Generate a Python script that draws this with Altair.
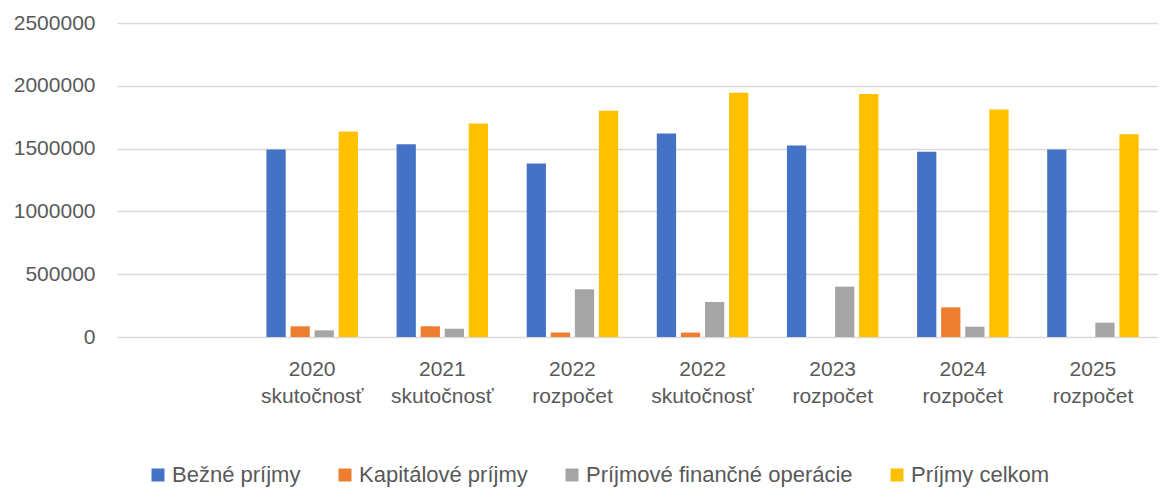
import altair as alt
import pandas as pd

categories = ["_", "2020 skutočnosť", "2021 skutočnosť", "2022 rozpočet", "2022 skutočnosť",
              "2023 rozpočet", "2024 rozpočet", "2025 rozpočet"]
data_categories = categories[1:]
series = ["Bežné príjmy", "Kapitálové príjmy", "Príjmové finančné operácie", "Príjmy celkom"]
colors = ["#4472C4", "#ED7D31", "#A5A5A5", "#FFC000"]

bezne = [1493000, 1535000, 1381000, 1620000, 1525000, 1474000, 1493000]
kapitalove = [85000, 85000, 35000, 35000, 0, 236000, 0]
financne = [53000, 66000, 380000, 279000, 401000, 82000, 114000]
celkom = [1636000, 1700000, 1801000, 1944000, 1934000, 1811000, 1615000]

rows = []
for vals, s in zip([bezne, kapitalove, financne, celkom], series):
    for c, v in zip(data_categories, vals):
        rows.append({"kategoria": c, "seria": s, "hodnota": v})
df = pd.DataFrame(rows)

FONT = "Liberation Sans"
TXT = "#595959"

chart = alt.Chart(df).mark_bar().encode(
    x=alt.X("kategoria:N", sort=categories,
            scale=alt.Scale(domain=categories, paddingInner=0.26, paddingOuter=0.13),
            axis=alt.Axis(title=None, labelAngle=0, domain=False, ticks=False,
                          labelExpr="datum.label == '_' ? '' : split(datum.label, ' ')",
                          labelFont=FONT, labelFontSize=21, labelColor=TXT,
                          labelLineHeight=27, labelPadding=21)),
    xOffset=alt.XOffset("seria:N", sort=series,
                        scale=alt.Scale(domain=series, paddingInner=0.2, paddingOuter=0.1)),
    y=alt.Y("hodnota:Q",
            scale=alt.Scale(domain=[0, 2500000], nice=False),
            axis=alt.Axis(title=None, values=[0, 500000, 1000000, 1500000, 2000000, 2500000],
                          format="d", domain=False, ticks=False,
                          labelFont=FONT, labelFontSize=21, labelColor=TXT, labelPadding=22,
                          gridColor="#D9D9D9", gridWidth=1.5)),
    color=alt.Color("seria:N", sort=series,
                    scale=alt.Scale(domain=series, range=colors),
                    legend=alt.Legend(title=None, orient="none", direction="horizontal",
                                      legendX=30, legendY=441,
                                      symbolType="square", symbolSize=169, symbolStrokeWidth=0,
                                      labelFont=FONT, labelFontSize=22, labelColor=TXT,
                                      labelLimit=400, labelOffset=3, columnPadding=33)),
).properties(
    width=1041, height=314,
    autosize=alt.AutoSizeParams(type="none"),
    padding={"left": 109, "top": 15, "right": 0, "bottom": 152},
).configure_view(stroke=None).configure_axis(labelFont=FONT)

chart.save("out.html", embed_options={"renderer": "svg", "actions": False})
